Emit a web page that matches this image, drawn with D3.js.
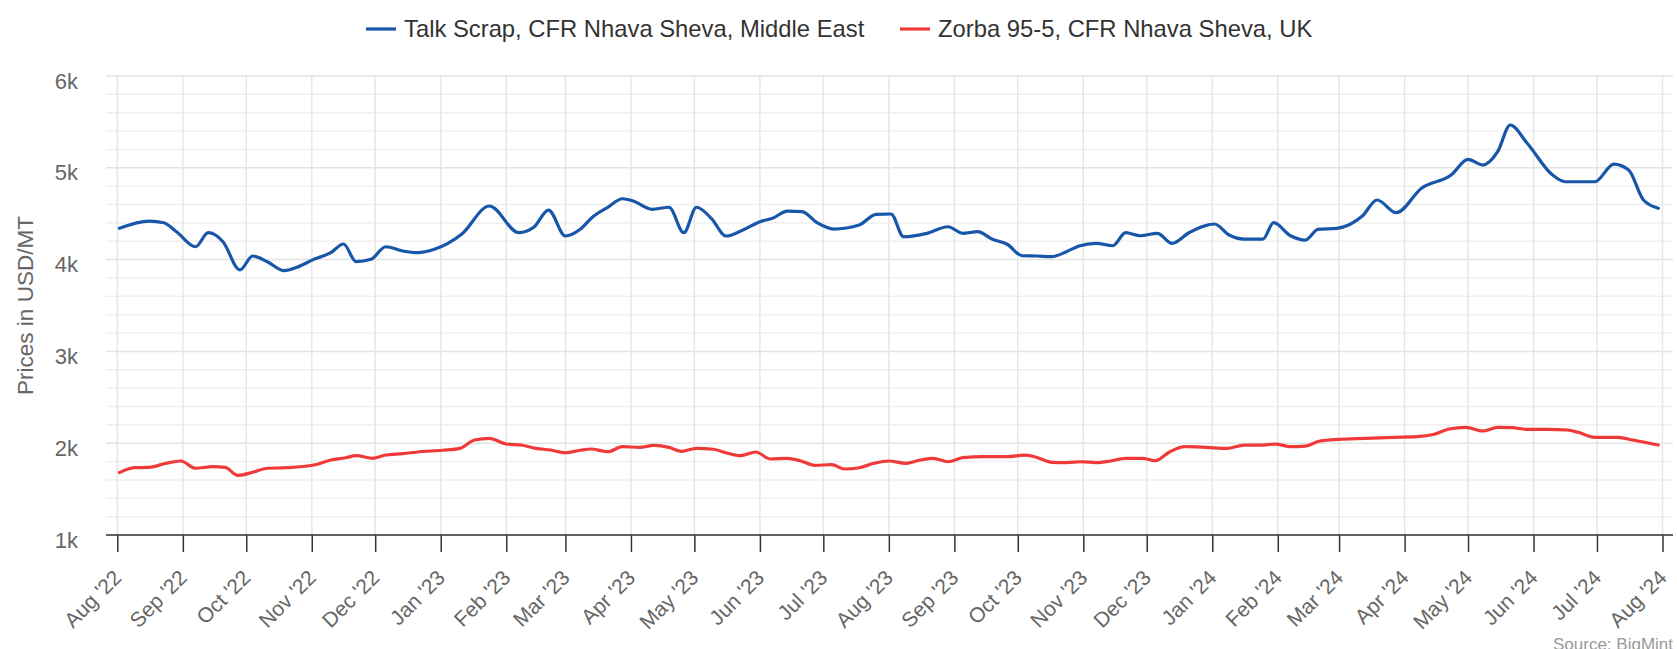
<!DOCTYPE html>
<html>
<head>
<meta charset="utf-8">
<script src="https://cdn.jsdelivr.net/npm/d3@7"></script>
<style>
  body { margin: 0; background: #fff; }
  svg { display: block; font-family: "Liberation Sans", Arial, sans-serif; }
</style>
</head>
<body>
<div id="chart"></div>
<script>
// Series names
const seriesNames = ["Talk Scrap, CFR Nhava Sheva, Middle East", "Zorba 95-5, CFR Nhava Sheva, UK"];
const seriesColors = ["#1756a9", "#f03a3a"];

// Talk Scrap (blue)
const talkDates = [
  "2022-08-02","2022-08-16","2022-08-23","2022-08-29","2022-09-07","2022-09-13","2022-09-20","2022-09-28","2022-10-04","2022-10-11",
  "2022-10-19","2022-10-25","2022-11-02","2022-11-10","2022-11-16","2022-11-22","2022-11-29","2022-12-06","2022-12-14","2022-12-21",
  "2022-12-29","2023-01-11","2023-01-24","2023-02-07","2023-02-14","2023-02-21","2023-03-01","2023-03-08","2023-03-14","2023-03-21",
  "2023-03-28","2023-04-02","2023-04-11","2023-04-19","2023-04-26","2023-05-02","2023-05-09","2023-05-16","2023-05-24","2023-06-01",
  "2023-06-07","2023-06-14","2023-06-21","2023-06-28","2023-07-06","2023-07-18","2023-07-26","2023-08-02","2023-08-08","2023-08-19",
  "2023-08-29","2023-09-05","2023-09-12","2023-09-19","2023-09-26","2023-10-03","2023-10-10","2023-10-17","2023-10-24","2023-10-30",
  "2023-11-07","2023-11-15","2023-11-21","2023-11-28","2023-12-06","2023-12-13","2023-12-21","2024-01-02","2024-01-09","2024-01-16",
  "2024-01-25","2024-01-30","2024-02-07","2024-02-14","2024-02-20","2024-02-29","2024-03-12","2024-03-19","2024-03-28","2024-04-09",
  "2024-04-23","2024-05-01","2024-05-08","2024-05-15","2024-05-21","2024-05-29","2024-06-10","2024-06-16","2024-06-30","2024-07-09",
  "2024-07-16","2024-07-23","2024-07-30"
];
const talkValues = [
  4341,4420,4402,4304,4140,4293,4195,3887,4039,3977,
  3879,3916,4003,4075,4170,3977,4003,4140,4094,4075,
  4112,4279,4584,4293,4352,4540,4257,4330,4467,4570,
  4663,4638,4548,4570,4293,4570,4450,4257,4322,4413,
  4450,4529,4522,4402,4333,4377,4493,4497,4249,4286,
  4358,4286,4304,4221,4167,4042,4039,4032,4086,4148,
  4177,4151,4293,4260,4286,4177,4293,4388,4268,4224,
  4224,4402,4260,4213,4330,4341,4475,4649,4511,4777,
  4921,5092,5030,5175,5466,5267,4921,4848,4848,5041,
  4976,4649,4559
];

// Zorba 95-5 (red)
const zorbaDates = [
  "2022-08-02","2022-08-09","2022-08-16","2022-08-24","2022-08-31","2022-09-07","2022-09-15","2022-09-21","2022-09-27","2022-10-04",
  "2022-10-11","2022-10-20","2022-11-02","2022-11-10","2022-11-17","2022-11-22","2022-11-30","2022-12-06","2022-12-14","2022-12-22",
  "2023-01-02","2023-01-10","2023-01-17","2023-01-24","2023-02-01","2023-02-08","2023-02-15","2023-02-22","2023-03-01","2023-03-08",
  "2023-03-13","2023-03-21","2023-03-28","2023-04-05","2023-04-12","2023-04-19","2023-04-25","2023-05-02","2023-05-10","2023-05-16",
  "2023-05-23","2023-05-30","2023-06-06","2023-06-14","2023-06-20","2023-06-27","2023-07-05","2023-07-11","2023-07-18","2023-07-25",
  "2023-08-01","2023-08-09","2023-08-16","2023-08-22","2023-08-29","2023-09-05","2023-09-15","2023-09-26","2023-10-04","2023-10-09",
  "2023-10-17","2023-10-24","2023-10-31","2023-11-07","2023-11-14","2023-11-21","2023-11-29","2023-12-05","2023-12-12","2023-12-19",
  "2023-12-29","2024-01-08","2024-01-16","2024-01-25","2024-01-31","2024-02-07","2024-02-14","2024-02-21","2024-03-01","2024-03-13",
  "2024-03-27","2024-04-07","2024-04-15","2024-04-22","2024-04-30","2024-05-08","2024-05-15","2024-05-22","2024-05-29","2024-06-08",
  "2024-06-17","2024-06-22","2024-06-30","2024-07-11","2024-07-18","2024-07-30"
];
const zorbaValues = [
  1679,1733,1737,1781,1806,1727,1744,1737,1650,1683,
  1727,1733,1762,1817,1842,1864,1835,1871,1886,1907,
  1923,1944,2035,2053,1991,1980,1944,1926,1896,1923,
  1937,1907,1962,1955,1977,1955,1912,1944,1934,1896,
  1864,1904,1828,1835,1809,1759,1766,1719,1733,1781,
  1806,1781,1817,1835,1798,1842,1853,1853,1871,1853,
  1792,1788,1798,1788,1806,1835,1835,1809,1907,1962,
  1955,1944,1980,1980,1991,1962,1969,2024,2042,2053,
  2064,2071,2097,2155,2173,2133,2173,2169,2151,2151,
  2144,2119,2064,2064,2035,1980
];

// Axis settings
const yTicks = [1000, 2000, 3000, 4000, 5000, 6000];
const xStart = "2022-08-01";
const xEnd = "2024-08-01";

const width = 1677, height = 649;
const plot = { left: 106, right: 1673, top: 76, bottom: 535 };

const parse = d3.utcParse("%Y-%m-%d");
const series = [
  talkDates.map((d, i) => ({ date: parse(d), value: talkValues[i] })),
  zorbaDates.map((d, i) => ({ date: parse(d), value: zorbaValues[i] }))
];

const svg = d3.select("#chart")
  .append("svg")
  .attr("width", width)
  .attr("height", height);

const x = d3.scaleUtc()
  .domain([parse(xStart), parse(xEnd)])
  .range([117.3, 1662.5]);

const y = d3.scaleLinear()
  .domain([yTicks[0], yTicks[yTicks.length - 1]])
  .range([plot.bottom, plot.top]);

const months = d3.utcMonth.range(parse(xStart), d3.utcDay.offset(parse(xEnd), 1));

// Minor + major horizontal grid
svg.append("g")
  .selectAll("line")
  .data(y.ticks(25))
  .enter()
  .append("line")
  .attr("x1", plot.left)
  .attr("x2", plot.right)
  .attr("y1", d => y(d))
  .attr("y2", d => y(d))
  .attr("stroke", d => yTicks.includes(d) ? "#e3e3e3" : "#efefef")
  .attr("stroke-width", 1.5);

// Vertical grid at month ticks
svg.append("g")
  .selectAll("line")
  .data(months)
  .enter()
  .append("line")
  .attr("x1", d => x(d))
  .attr("x2", d => x(d))
  .attr("y1", plot.top)
  .attr("y2", plot.bottom)
  .attr("stroke", "#e6e6e6")
  .attr("stroke-width", 1.5);

// Y labels
svg.append("g")
  .attr("font-size", 22)
  .attr("fill", "#666")
  .attr("text-anchor", "end")
  .selectAll("text")
  .data(yTicks)
  .enter()
  .append("text")
  .attr("x", 78)
  .attr("y", d => y(d) + 12.5)
  .text(d3.format("~s"));

svg.append("text")
  .attr("transform", `translate(25, ${(plot.top + plot.bottom) / 2}) rotate(-90)`)
  .attr("text-anchor", "middle")
  .attr("dominant-baseline", "central")
  .attr("font-size", 22.5)
  .attr("fill", "#666")
  .text("Prices in USD/MT");

// X axis
const xAxis = svg.append("g")
  .attr("transform", `translate(0, ${plot.bottom})`)
  .call(d3.axisBottom(x)
    .tickValues(months)
    .tickFormat(d3.utcFormat("%b '%y"))
    .tickSize(17));

xAxis.select(".domain").remove();
xAxis.selectAll(".tick line")
  .attr("stroke", "#333")
  .attr("stroke-width", 1.5);
xAxis.selectAll(".tick text")
  .attr("x", 0)
  .attr("y", 0)
  .attr("dy", 0)
  .attr("transform", "translate(5, 44) rotate(-45)")
  .attr("text-anchor", "end")
  .attr("font-family", "Liberation Sans, Arial, sans-serif")
  .attr("font-size", 21)
  .attr("fill", "#666");

svg.append("line")
  .attr("x1", plot.left)
  .attr("x2", plot.right)
  .attr("y1", plot.bottom)
  .attr("y2", plot.bottom)
  .attr("stroke", "#333")
  .attr("stroke-width", 1.5);

// Lines
const line = d3.line()
  .x(d => x(d.date))
  .y(d => y(d.value))
  .curve(d3.curveMonotoneX);

svg.append("g")
  .selectAll("path")
  .data(series)
  .enter()
  .append("path")
  .attr("d", line)
  .attr("fill", "none")
  .attr("stroke", (d, i) => seriesColors[i])
  .attr("stroke-width", 3.2)
  .attr("stroke-linejoin", "round")
  .attr("stroke-linecap", "round");

// Legend
const legendX = [366, 900];
const legend = svg.append("g")
  .selectAll("g")
  .data(seriesNames)
  .enter()
  .append("g")
  .attr("transform", (d, i) => `translate(${legendX[i]}, 29)`);

legend.append("line")
  .attr("x1", 0)
  .attr("x2", 30)
  .attr("stroke", (d, i) => seriesColors[i])
  .attr("stroke-width", 3.2);

legend.append("text")
  .attr("x", 38)
  .attr("y", 8)
  .attr("font-size", 23.8)
  .attr("fill", "#333")
  .text(d => d);

// Source note
svg.append("text")
  .attr("x", 1673)
  .attr("y", 650)
  .attr("text-anchor", "end")
  .attr("font-size", 17)
  .attr("fill", "#999")
  .text("Source: BigMint");
</script>
</body>
</html>
